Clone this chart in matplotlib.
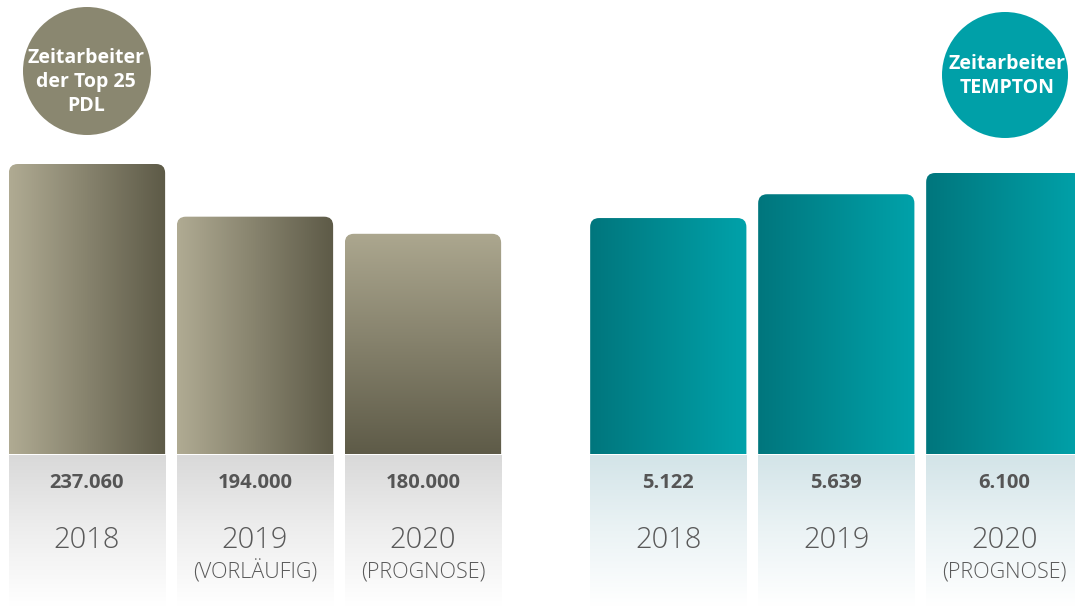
import numpy as np
import matplotlib.pyplot as plt
from matplotlib.patches import FancyBboxPatch, Circle
from matplotlib.colors import LinearSegmentedColormap

plt.rcParams['font.family'] = ['Open Sans', 'DejaVu Sans']

years = ["2018", "2019", "2020"]
pdl_values = [237060, 194000, 180000]
pdl_notes = ["", "(VORLÄUFIG)", "(PROGNOSE)"]
tempton_values = [5122, 5639, 6100]
tempton_notes = ["", "", "(PROGNOSE)"]

W, H = 1075, 616
fig = plt.figure(figsize=(W / 100, H / 100), dpi=100)
ax = fig.add_axes([0, 0, 1, 1])
ax2 = ax.twinx()
ax2.set_position([0, 0, 1, 1])

# layout in pixels
step = 168          # pixels per bar slot
bar_w = 0.93
base_px = 162       # baseline height from bottom
top_px = H - base_px
left_xs = np.arange(3)
right_xs = np.arange(3) + 3.46

kL = pdl_values[0] / 290.0
kR = tempton_values[2] / 281.0

olive_h = LinearSegmentedColormap.from_list("oh", ["#b0ab93", "#5d5a47"])
olive_v = LinearSegmentedColormap.from_list("ov", ["#aca78f", "#5e5b48"])
teal_h = LinearSegmentedColormap.from_list("th", ["#00767d", "#00a2aa"])
gray_refl = LinearSegmentedColormap.from_list("gr", ["#d9d9d9", "#eeeeee", "#ffffff"])
teal_refl = LinearSegmentedColormap.from_list("tr", ["#d3e4e8", "#ebf3f5", "#ffffff"])

hgrad = np.linspace(0, 1, 256).reshape(1, -1)
vgrad = np.linspace(0, 1, 256).reshape(-1, 1)


def draw_group(axis, xs, values, notes, k, cmaps, refl_cmap):
    for x, v, yr, note, cm in zip(xs, values, years, notes, cmaps):
        x0, x1 = x - bar_w / 2, x + bar_w / 2
        r = 9.0 / step
        clip = FancyBboxPatch((x0, -0.2 * v), bar_w, 1.2 * v,
                              boxstyle=f"round,pad=0,rounding_size={r}",
                              mutation_aspect=k * step,
                              facecolor="none", edgecolor="none")
        axis.add_patch(clip)
        grad = vgrad if cm is olive_v else hgrad
        im = axis.imshow(grad, extent=[x0, x1, 0, v], cmap=cm,
                         aspect="auto", origin="upper", zorder=2,
                         interpolation="bilinear")
        im.set_clip_path(clip)
        # reflection panel
        axis.imshow(vgrad, extent=[x0, x1, -152 * k, -1.5 * k], cmap=refl_cmap,
                    aspect="auto", origin="upper", zorder=1,
                    interpolation="bilinear")
        label = f"{v:,}".replace(",", ".")
        axis.text(x, -29 * k, label, ha="center", va="center", fontsize=14.5,
                  fontweight="bold", color="#555555", zorder=3)
        axis.text(x, -86 * k, yr, ha="center", va="center", fontsize=21,
                  fontweight="light", color="#595959", zorder=3)
        if note:
            axis.text(x, -118 * k, note, ha="center", va="center", fontsize=15.5,
                      fontweight="light", color="#595959", zorder=3)


draw_group(ax, left_xs, pdl_values, pdl_notes, kL,
           [olive_h, olive_h, olive_v], gray_refl)
draw_group(ax2, right_xs, tempton_values, tempton_notes, kR,
           [teal_h, teal_h, teal_h], teal_refl)

for a, k in ((ax, kL), (ax2, kR)):
    a.set_xlim(-87.0 / step, (W - 87.0) / step)
    a.set_ylim(-base_px * k, top_px * k)
    a.axis("off")

# circle labels
fig.add_artist(Circle((0.87, (H - 71) / 100), 0.64, transform=fig.dpi_scale_trans,
                      facecolor="#8a8770", edgecolor="none"))
fig.text(86 / W, 1 - 82 / H, "Zeitarbeiter\nder Top 25\nPDL", ha="center", va="center",
         fontsize=14, fontweight="bold", color="white", linespacing=1.25)
fig.add_artist(Circle((10.05, (H - 75) / 100), 0.63, transform=fig.dpi_scale_trans,
                      facecolor="#00a0a8", edgecolor="none"))
fig.text(1007 / W, 1 - 76 / H, "Zeitarbeiter\nTEMPTON", ha="center", va="center",
         fontsize=14, fontweight="bold", color="white", linespacing=1.25)

fig.savefig("out.png", dpi=100)
